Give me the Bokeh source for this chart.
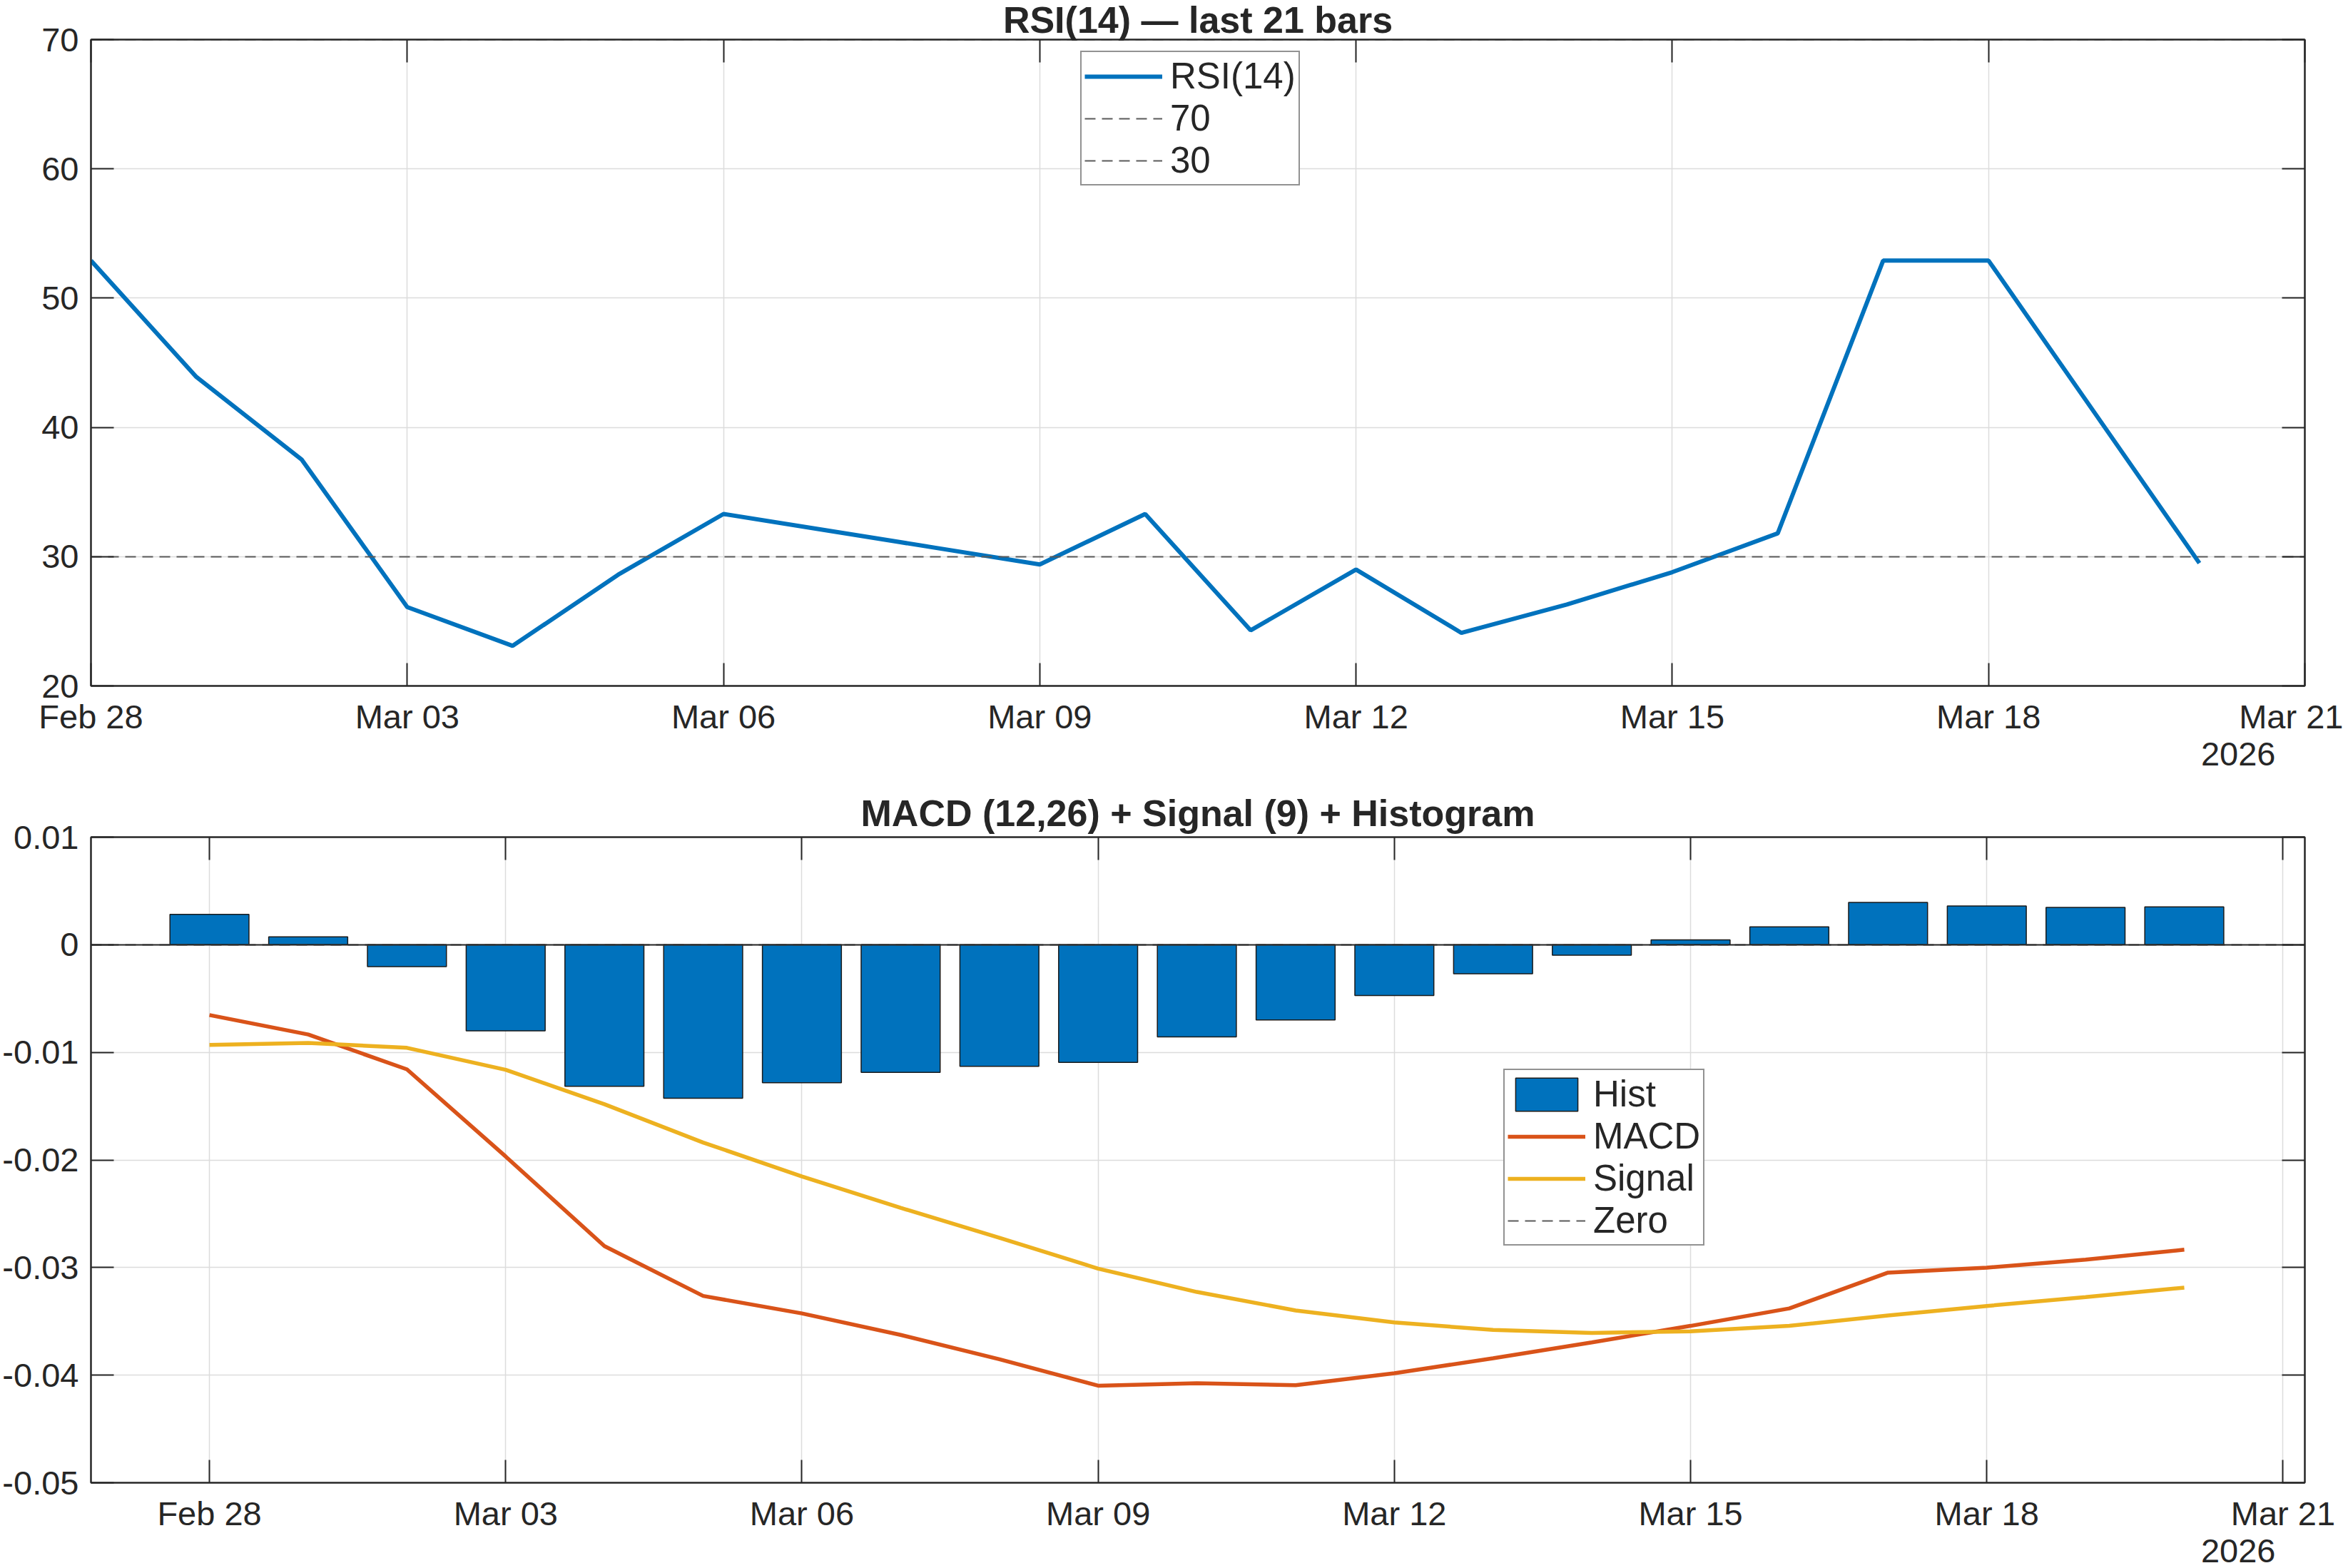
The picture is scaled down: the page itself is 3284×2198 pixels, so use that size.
import pandas as pd
from bokeh.plotting import figure
from bokeh.layouts import column
from bokeh.models import (FixedTicker, DatetimeTickFormatter, LinearAxis, DatetimeAxis,
                          Range1d, Title, Legend, LegendItem, CustomJSTickFormatter)
from bokeh.embed import file_html
from bokeh.resources import INLINE

# ---------------- data ----------------
dates = ["2026-02-28", "2026-03-01", "2026-03-02", "2026-03-03", "2026-03-04", "2026-03-05",
         "2026-03-06", "2026-03-07", "2026-03-08", "2026-03-09", "2026-03-10", "2026-03-11",
         "2026-03-12", "2026-03-13", "2026-03-14", "2026-03-15", "2026-03-16", "2026-03-17",
         "2026-03-18", "2026-03-19", "2026-03-20"]
rsi = [52.9, 43.9, 37.5, 26.1, 23.1, 28.6, 33.3, 32.0, 30.7, 29.4, 33.3, 24.3,
       29.0, 24.1, 26.3, 28.8, 31.8, 52.9, 52.9, 41.2, 29.5]
rsi_upper = [70]
rsi_lower = [30]
hist = [0.00283, 0.00074, -0.00204, -0.00800, -0.01315, -0.01426, -0.01283, -0.01186,
        -0.01130, -0.01093, -0.00857, -0.00699, -0.00472, -0.00269, -0.00097, 0.00046,
        0.00167, 0.00393, 0.00361, 0.00347, 0.00352]
macd = [-0.00653, -0.00834, -0.01158, -0.01968, -0.02801, -0.03264, -0.03426, -0.03626,
        -0.03852, -0.04098, -0.04075, -0.04093, -0.03982, -0.03843, -0.03695, -0.03542,
        -0.03380, -0.03047, -0.03001, -0.02926, -0.02834]
signal = [-0.00931, -0.00912, -0.00958, -0.01162, -0.01482, -0.01838, -0.02153, -0.02445,
          -0.02723, -0.03010, -0.03227, -0.03399, -0.03510, -0.03580, -0.03607, -0.03593,
          -0.03542, -0.03445, -0.03357, -0.03274, -0.03186]
zero_level = [0]
x_tick_dates = ["2026-02-28", "2026-03-03", "2026-03-06", "2026-03-09", "2026-03-12",
                "2026-03-15", "2026-03-18", "2026-03-21"]
rsi_yticks = [20, 30, 40, 50, 60, 70]
macd_yticks = [-0.05, -0.04, -0.03, -0.02, -0.01, 0, 0.01]
year_label = "2026"
rsi_title = "RSI(14) \u2014 last 21 bars"
macd_title = "MACD (12,26) + Signal (9) + Histogram"

# ---------------- style ----------------
FONT = "Liberation Sans"
TXT = "#262626"
BLUE = "#0072BD"
ORANGE = "#D95319"
YELLOW = "#EDB120"
DASH_COL = "#5a5a5a"
GRID = "#DCDCDC"
TICK_FS = "47px"
W = 3284
H = 1099

x = pd.to_datetime(dates)
xt = [pd.Timestamp(d).value // 10**6 for d in x_tick_dates]
day_ms = 86400000

fmt = DatetimeTickFormatter(days="%b %d", months="%b %d", hours="%b %d", hourmin="%b %d",
                            minutes="%b %d", minsec="%b %d", seconds="%b %d",
                            milliseconds="%b %d", microseconds="%b %d", years="%b %d")
blank = CustomJSTickFormatter(code="return ''")


def style_axis(ax):
    ax.major_tick_in = 32
    ax.major_tick_out = 0
    ax.minor_tick_in = 0
    ax.minor_tick_out = 0
    ax.major_tick_line_color = TXT
    ax.major_tick_line_width = 2
    ax.axis_line_color = TXT
    ax.axis_line_width = 2
    ax.major_label_text_font = FONT
    ax.major_label_text_font_size = TICK_FS
    ax.major_label_text_color = TXT


def make_fig(xr, yr, yticks, top_border, bottom_border, title, title_standoff):
    p = figure(width=W, height=H, x_axis_type="datetime", x_range=xr, y_range=yr,
               output_backend="svg", toolbar_location=None,
               min_border_left=126, min_border_right=54,
               min_border_top=top_border, min_border_bottom=bottom_border)
    p.outline_line_color = TXT
    p.outline_line_width = 2
    p.background_fill_color = "white"
    p.border_fill_color = "white"
    p.xaxis.ticker = FixedTicker(ticks=xt)
    p.xaxis.formatter = fmt
    p.yaxis.ticker = FixedTicker(ticks=yticks)
    for ax in p.xaxis:
        style_axis(ax)
        ax.major_label_standoff = 16
    for ax in p.yaxis:
        style_axis(ax)
        ax.major_label_standoff = 17
    p.xgrid.ticker = FixedTicker(ticks=xt)
    p.ygrid.ticker = FixedTicker(ticks=yticks)
    for g in (p.xgrid, p.ygrid):
        g.grid_line_color = GRID
        g.grid_line_width = 1.5
    # mirrored ticks (box)
    ra = LinearAxis(ticker=FixedTicker(ticks=yticks), formatter=blank)
    style_axis(ra)
    ra.major_label_text_font_size = "1px"
    ra.major_label_standoff = 0
    p.add_layout(ra, "right")
    ta = DatetimeAxis(ticker=FixedTicker(ticks=xt), formatter=blank)
    style_axis(ta)
    ta.major_label_text_font_size = "1px"
    ta.major_label_standoff = 0
    p.add_layout(ta, "above")
    # titles
    t = Title(text=title, align="center", text_font=FONT, text_font_size="52px",
              text_font_style="bold", text_color=TXT, standoff=title_standoff,
              vertical_align="top")
    p.add_layout(t, "above")
    yr_t = Title(text=year_label, align="right", offset=41, text_font=FONT,
                 text_font_size=TICK_FS, text_font_style="normal", text_color=TXT,
                 standoff=14, vertical_align="top")
    p.add_layout(yr_t, "below")
    return p


# ---------------- RSI ----------------
p1 = make_fig(Range1d(pd.Timestamp("2026-02-28"), pd.Timestamp("2026-03-21")),
              Range1d(20, 70), rsi_yticks, 55, 138, rsi_title, -7)
r_rsi = p1.line(x, rsi, line_color=BLUE, line_width=6)
r_70 = p1.hspan(y=rsi_upper, line_color=DASH_COL, line_width=2, line_dash="15 9")
r_30 = p1.hspan(y=rsi_lower, line_color=DASH_COL, line_width=2, line_dash="15 9")
leg1 = Legend(items=[LegendItem(label="RSI(14)", renderers=[r_rsi]),
                     LegendItem(label="70", renderers=[r_70]),
                     LegendItem(label="30", renderers=[r_30])],
              location=(1387, 701))
p1.add_layout(leg1, "center")

# ---------------- MACD ----------------
x0 = pd.Timestamp("2026-02-28") - pd.Timedelta(hours=28.8)
x1 = pd.Timestamp("2026-03-21") + pd.Timedelta(hours=5.3)
p2 = make_fig(Range1d(x0, x1), Range1d(-0.05, 0.01), macd_yticks, 74, 116, macd_title, 5)
p2.yaxis[0].formatter = CustomJSTickFormatter(
    code="return Math.abs(tick) < 1e-12 ? '0' : tick.toFixed(2)")
r_hist = p2.vbar(x=x, top=hist, bottom=0, width=0.8 * day_ms, fill_color=BLUE,
                 line_color="#1a1a1a", line_width=1.5)
r_macd = p2.line(x, macd, line_color=ORANGE, line_width=5.5)
r_sig = p2.line(x, signal, line_color=YELLOW, line_width=5.5)
r_zero = p2.hspan(y=zero_level, line_color=DASH_COL, line_width=2, line_dash="15 9")
p2.hspan(y=zero_level, line_color=TXT, line_width=2)
leg2 = Legend(items=[LegendItem(label="Hist", renderers=[r_hist]),
                     LegendItem(label="MACD", renderers=[r_macd]),
                     LegendItem(label="Signal", renderers=[r_sig]),
                     LegendItem(label="Zero", renderers=[r_zero])],
              location=(1980, 332))
p2.add_layout(leg2, "center")

for lg in (leg1, leg2):
    lg.label_text_font = FONT
    lg.label_text_font_size = "51px"
    lg.label_text_color = TXT
    lg.glyph_width = 109
    lg.glyph_height = 58
    lg.label_height = 58
    lg.label_standoff = 11
    lg.padding = 4
    lg.spacing = 0
    lg.margin = 0
    lg.border_line_color = TXT
    lg.border_line_width = 2
    lg.background_fill_color = "white"
    lg.background_fill_alpha = 1.0

layout = column(p1, p2, spacing=0)
open("out.html", "w").write(file_html(layout, INLINE))
